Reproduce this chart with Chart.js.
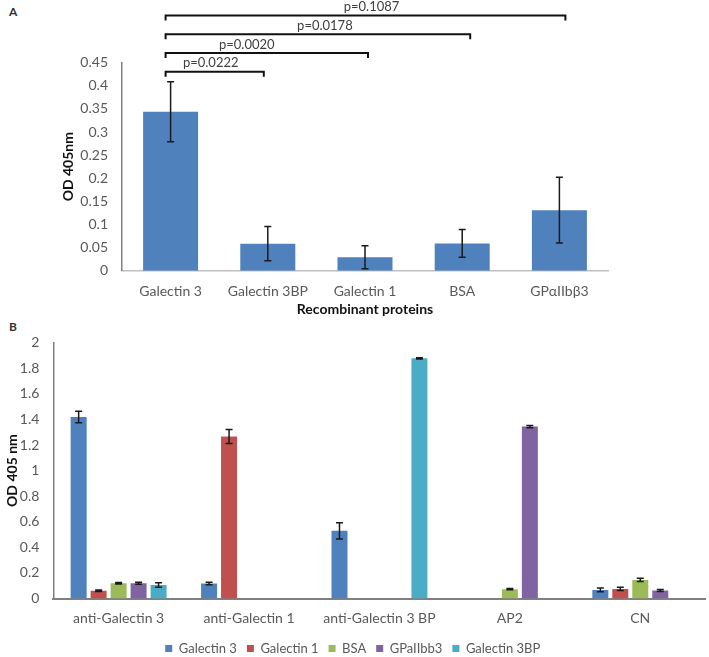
<!DOCTYPE html>
<html>
<head>
<meta charset="utf-8">
<script src="https://cdn.jsdelivr.net/npm/chart.js@4/dist/chart.umd.min.js"></script>
<style>
  html, body { margin: 0; padding: 0; background: #fff; width: 709px; height: 657px; overflow: hidden; }
  #wrapA { position: absolute; left: 0; top: 0; width: 709px; height: 320px; }
  #wrapB { position: absolute; left: 0; top: 320px; width: 709px; height: 345px; }
  .panel { position: absolute; font-family: Lato, sans-serif; font-weight: bold; font-size: 12px; color: #333; }
</style>
</head>
<body>
<div class="panel" style="left:9px; top:4px;">A</div>
<div class="panel" style="left:9px; top:319px;">B</div>
<div id="wrapA"><canvas id="chartA" width="709" height="320"></canvas></div>
<div id="wrapB"><canvas id="chartB" width="709" height="345"></canvas></div>
<script>
// ---------- Panel A data ----------
const categoriesA = ['Galectin 3', 'Galectin 3BP', 'Galectin 1', 'BSA', 'GPαIIbβ3'];
const valuesA = [0.344, 0.0585, 0.029, 0.059, 0.131];
const errorsA = [0.065, 0.037, 0.025, 0.030, 0.071];
const yTicksA = ['0', '0.05', '0.1', '0.15', '0.2', '0.25', '0.3', '0.35', '0.4', '0.45'];
const pLabels = ['p=0.0222', 'p=0.0020', 'p=0.0178', 'p=0.1087'];
const pFrom = [0, 0, 0, 0];
const pTo = [1, 2, 3, 4];

// ---------- Panel B data ----------
const categoriesB = ['anti-Galectin 3', 'anti-Galectin 1', 'anti-Galectin 3 BP', 'AP2', 'CN'];
const seriesNamesB = ['Galectin 3', 'Galectin 1', 'BSA', 'GPaIIbb3', 'Galectin 3BP'];
const galectin3 = [1.42, 0.118, 0.529, null, 0.067];
const galectin1 = [0.061, 1.266, null, null, 0.075];
const bsa = [0.119, null, null, 0.073, 0.145];
const gp = [0.119, null, null, 1.344, 0.062];
const galectin3bp = [0.105, null, 1.878, null, null];
const errGalectin3 = [0.045, 0.010, 0.064, null, 0.015];
const errGalectin1 = [0.006, 0.055, null, null, 0.012];
const errBsa = [0.006, null, null, 0.005, 0.013];
const errGp = [0.008, null, null, 0.008, 0.008];
const errGalectin3bp = [0.018, null, 0.005, null, null];
const yTicksB = ['0', '0.2', '0.4', '0.6', '0.8', '1', '1.2', '1.4', '1.6', '1.8', '2'];

const FONT = 'Lato, "Liberation Sans", sans-serif';
const TICK_COLOR = '#595959';

// Error bar plugin: uses the dataset's "errors" array
const errorBars = {
  id: 'errorBars',
  afterDatasetsDraw(chart, args, opts) {
    const ctx = chart.ctx;
    const y = chart.scales.y;
    chart.data.datasets.forEach((ds, di) => {
      const meta = chart.getDatasetMeta(di);
      if (!ds.errors) return;
      meta.data.forEach((el, i) => {
        const v = ds.data[i], e = ds.errors[i];
        if (v == null || e == null) return;
        const top = y.getPixelForValue(v + e);
        const bot = y.getPixelForValue(v - e);
        const x = el.x;
        ctx.save();
        ctx.strokeStyle = opts.color || '#000';
        ctx.lineWidth = opts.lineWidth || 1.5;
        ctx.beginPath();
        ctx.moveTo(x, top); ctx.lineTo(x, bot);
        ctx.moveTo(x - opts.cap, top); ctx.lineTo(x + opts.cap, top);
        ctx.moveTo(x - opts.cap, bot); ctx.lineTo(x + opts.cap, bot);
        ctx.stroke();
        ctx.restore();
      });
    });
  }
};

// Significance brackets for panel A
const brackets = {
  id: 'brackets',
  afterDraw(chart, args, opts) {
    if (!opts.enabled) return;
    const ctx = chart.ctx;
    const xs = chart.scales.x;
    const top = chart.chartArea.top;
    ctx.save();
    pLabels.forEach((label, k) => {
      const yLine = top + opts.firstOffset - k * opts.step;
      const x1 = xs.getPixelForValue(pFrom[k]) + opts.leftNudge;
      const x2 = xs.getPixelForValue(pTo[k]) + opts.rightNudge[k];
      ctx.strokeStyle = '#111';
      ctx.lineWidth = 2;
      ctx.beginPath();
      ctx.moveTo(x1, yLine + opts.drop);
      ctx.lineTo(x1, yLine);
      ctx.lineTo(x2, yLine);
      ctx.lineTo(x2, yLine + opts.drop);
      ctx.stroke();
      ctx.fillStyle = '#404040';
      ctx.font = '13px ' + FONT;
      ctx.textAlign = 'center';
      ctx.textBaseline = 'middle';
      ctx.fillText(label, (x1 + x2) / 2 + opts.textNudge[k], yLine - opts.textGap);
    });
    ctx.restore();
  }
};

new Chart(document.getElementById('chartA'), {
  type: 'bar',
  data: {
    labels: categoriesA,
    datasets: [{
      data: valuesA,
      errors: errorsA,
      backgroundColor: '#4F81BD',
      borderWidth: 0,
      categoryPercentage: 1,
      barPercentage: 0.566
    }]
  },
  options: {
    responsive: false,
    animation: false,
    events: [],
    layout: { padding: { left: 56, top: 62.7, right: 101, bottom: 0 } },
    plugins: {
      legend: { display: false },
      tooltip: { enabled: false },
      errorBars: { cap: 3.5, lineWidth: 1.5, color: '#1a1a1a' },
      brackets: {
        enabled: true, firstOffset: 9, step: 18.7, drop: 5, textGap: 8.5,
        leftNudge: -5, rightNudge: [-4, 3, 8, 6], textNudge: [-4, -20, 7, 6]
      }
    },
    scales: {
      x: {
        grid: { display: false, drawTicks: false },
        border: { display: true, color: '#BFBFBF', width: 1.5 },
        ticks: { color: TICK_COLOR, font: { family: FONT, size: 14 }, padding: 12 },
        title: { display: true, text: 'Recombinant proteins', color: '#111', font: { family: FONT, size: 14, weight: 'bold' }, padding: { top: 0, bottom: 2 } },
        afterFit(s) { s.height = 49.3; }
      },
      y: {
        min: 0, max: 0.45,
        grid: { display: false, drawTicks: false },
        border: { display: true, color: '#808080', width: 1.5 },
        ticks: {
          stepSize: 0.05, color: TICK_COLOR, font: { family: FONT, size: 14 }, padding: 14,
          callback: (v, i) => yTicksA[i]
        },
        title: { display: true, text: 'OD 405nm', color: '#111', font: { family: FONT, size: 14, weight: 'bold' }, padding: { top: 4, bottom: 0 } },
        afterFit(s) { s.width = 66; }
      }
    }
  },
  plugins: [errorBars, brackets]
});

const colorsB = ['#4F81BD', '#C0504D', '#9BBB59', '#8064A2', '#4BACC6'];
const valuesB = [galectin3, galectin1, bsa, gp, galectin3bp];
const errorsB = [errGalectin3, errGalectin1, errBsa, errGp, errGalectin3bp];

new Chart(document.getElementById('chartB'), {
  type: 'bar',
  data: {
    labels: categoriesB,
    datasets: seriesNamesB.map((name, i) => ({
      label: name,
      data: valuesB[i],
      errors: errorsB[i],
      backgroundColor: colorsB[i],
      borderWidth: 0,
      categoryPercentage: 0.766,
      barPercentage: 0.8
    }))
  },
  options: {
    responsive: false,
    animation: false,
    events: [],
    layout: { padding: { left: 0, top: 22.7, right: 3.5, bottom: 0 } },
    plugins: {
      legend: {
        display: true, position: 'bottom',
        labels: { color: TICK_COLOR, font: { family: FONT, size: 13 }, boxWidth: 7, boxHeight: 7, padding: 10 }
      },
      tooltip: { enabled: false },
      errorBars: { cap: 3.5, lineWidth: 1.5, color: '#1a1a1a' },
      brackets: { enabled: false }
    },
    scales: {
      x: {
        grid: { display: false, drawTicks: false },
        border: { display: true, color: '#808080', width: 2 },
        ticks: { color: TICK_COLOR, font: { family: FONT, size: 14 }, padding: 12 },
        afterFit(s) { s.height = 33.5; }
      },
      y: {
        min: 0, max: 2,
        grid: { display: false, drawTicks: false },
        border: { display: true, color: '#808080', width: 1.5 },
        ticks: {
          stepSize: 0.2, color: TICK_COLOR, font: { family: FONT, size: 14 }, padding: 14,
          callback: (v, i) => yTicksB[i]
        },
        title: { display: true, text: 'OD 405 nm', color: '#111', font: { family: FONT, size: 14, weight: 'bold' }, padding: { top: 4, bottom: 0 } },
        afterFit(s) { s.width = 53.4; }
      }
    }
  },
  plugins: [errorBars, brackets]
});
</script>
</body>
</html>
